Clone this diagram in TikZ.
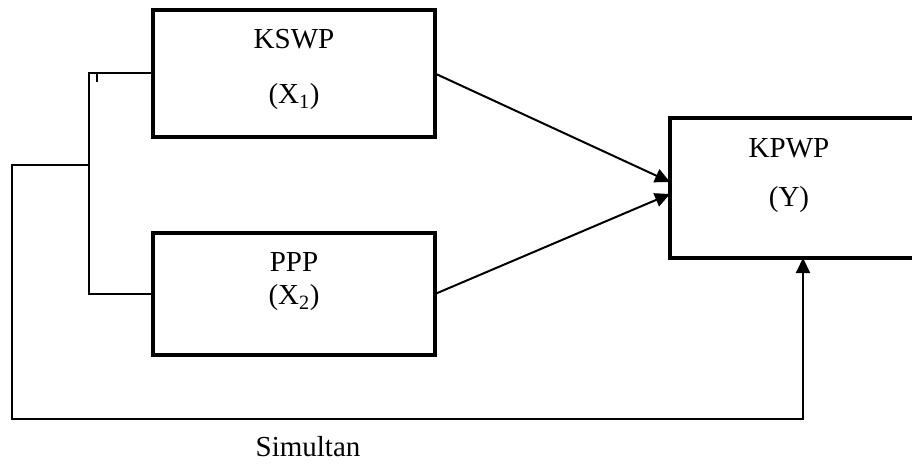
\documentclass[tikz,border=0pt]{standalone}
\usepackage{fontspec}
\setmainfont{Liberation Serif}
\usetikzlibrary{arrows.meta}

\tikzset{
  varbox/.style={draw, line width=3.5pt, outer sep=0pt, inner sep=0pt},
  conn/.style={line width=2pt},
  arr/.style={conn, -{Triangle[length=15pt,width=14pt]}},
  lbl/.style={font=\fontsize{29}{34}\selectfont, inner sep=0pt}
}

\begin{document}
\begin{tikzpicture}[x=1pt, y=-1pt]
\useasboundingbox (0,0) rectangle (912,465);

\node[varbox, minimum width=282pt, minimum height=127pt](kswp) at (294, 73.5){};
\node[varbox, minimum width=282pt, minimum height=122pt](ppp) at (294, 294){};
\node[varbox, minimum width=250pt, minimum height=140pt](kpwp) at (795, 188){};

\node[lbl](kswpname) at (294, 39){KSWP};
\node[lbl](kswpvar) at (294, 97){(X\textsubscript{1})};
\node[lbl](pppname) at (294, 262){PPP};
\node[lbl](pppvar) at (294, 298){(X\textsubscript{2})};
\node[lbl](kpwpname) at (789, 148){KPWP};
\node[lbl](kpwpvar) at (789, 200){(Y)};
\node[lbl](sim) at (308, 447){Simultan};

\coordinate (join) at (89, 165);
\coordinate (corner) at (803, 419);

\draw[conn] (kswp.west) -- ++(-64,0) |- (ppp.west);
\draw[line width=1.5pt] (97, 74) -- (97, 82);

\draw[arr] (kswp.east) -- ([yshift=6pt]kpwp.west);
\draw[arr] (ppp.east) -- ([yshift=-6pt]kpwp.west);

\draw[arr] (join) -- (12, 165) |- (corner) -- (corner |- kpwp.south);

\end{tikzpicture}
\end{document}
